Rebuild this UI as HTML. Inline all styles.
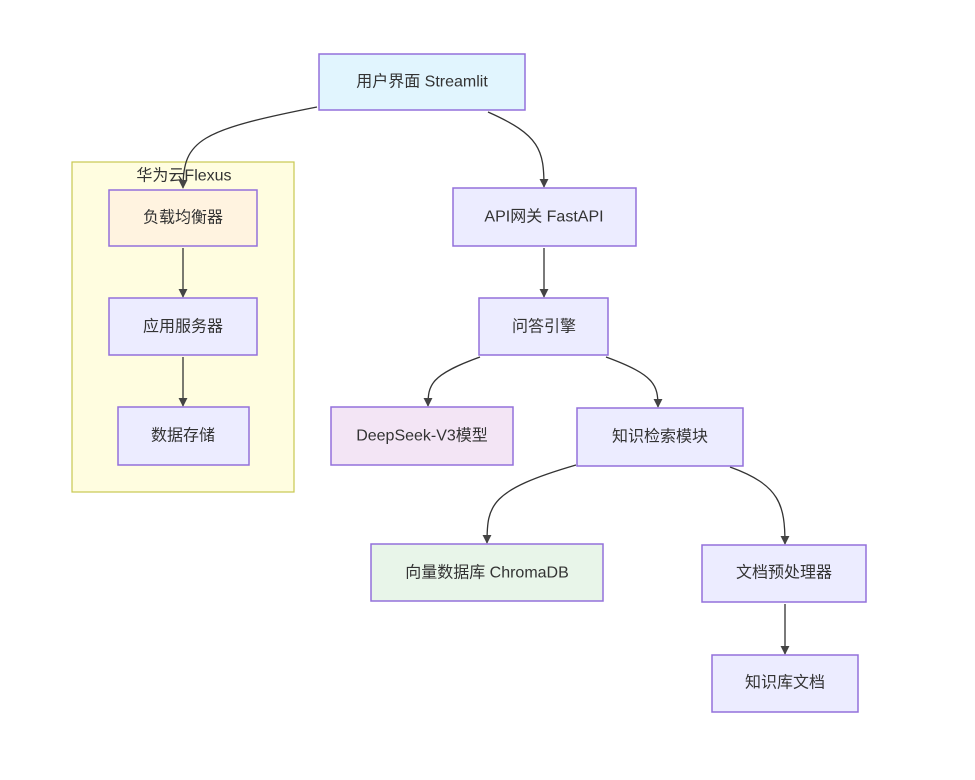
<!DOCTYPE html>
<html><head><meta charset="utf-8"><style>
body{margin:0;background:#fff;}
text{font-family:"Liberation Sans","Noto Sans CJK SC",sans-serif;font-size:16px;fill:#333;text-anchor:middle;dominant-baseline:central;}
.n{stroke:#9370db;stroke-width:1.5;}
.e{fill:none;stroke:#333;stroke-width:1.3;}
</style></head><body>
<svg width="975" height="775" viewBox="0 0 975 775" xmlns="http://www.w3.org/2000/svg">
<defs><marker id="a" viewBox="0 0 10 10" refX="9" refY="5" markerWidth="7" markerHeight="7" orient="auto"><path d="M0,0L10,5L0,10z" fill="#444"/></marker></defs>
<rect x="72" y="162" width="222" height="330" fill="#fffde0" stroke="#c8c850" stroke-width="1.2"/>
<text x="184" y="176">华为云Flexus</text>
<g class="e">
<path d="M317,107 C200,130 183,140 183,188" marker-end="url(#a)"/>
<path d="M488,112 C540,135 544,150 544,187" marker-end="url(#a)"/>
<path d="M183,248 L183,297" marker-end="url(#a)"/>
<path d="M183,357 L183,406" marker-end="url(#a)"/>
<path d="M544,248 L544,297" marker-end="url(#a)"/>
<path d="M480,357 C430,375 428,385 428,406" marker-end="url(#a)"/>
<path d="M606,357 C655,375 658,385 658,407" marker-end="url(#a)"/>
<path d="M576,465 C490,490 487,505 487,543" marker-end="url(#a)"/>
<path d="M730,467 C780,485 785,505 785,544" marker-end="url(#a)"/>
<path d="M785,604 L785,654" marker-end="url(#a)"/>
</g>
<g class="n">
<rect x="319" y="54" width="206" height="56" fill="#e1f5fe"/>
<rect x="109" y="190" width="148" height="56" fill="#fff3e0"/>
<rect x="109" y="298" width="148" height="57" fill="#ececff"/>
<rect x="118" y="407" width="131" height="58" fill="#ececff"/>
<rect x="453" y="188" width="183" height="58" fill="#ececff"/>
<rect x="479" y="298" width="129" height="57" fill="#ececff"/>
<rect x="331" y="407" width="182" height="58" fill="#f3e5f5"/>
<rect x="577" y="408" width="166" height="58" fill="#ececff"/>
<rect x="371" y="544" width="232" height="57" fill="#e8f5e9"/>
<rect x="702" y="545" width="164" height="57" fill="#ececff"/>
<rect x="712" y="655" width="146" height="57" fill="#ececff"/>
</g>
<text x="422" y="82">用户界面 Streamlit</text>
<text x="183" y="218">负载均衡器</text>
<text x="183" y="327">应用服务器</text>
<text x="183" y="436">数据存储</text>
<text x="544" y="217">API网关 FastAPI</text>
<text x="544" y="327">问答引擎</text>
<text x="422" y="436">DeepSeek-V3模型</text>
<text x="660" y="437">知识检索模块</text>
<text x="487" y="573">向量数据库 ChromaDB</text>
<text x="784" y="573">文档预处理器</text>
<text x="785" y="683">知识库文档</text>
</svg>
</body></html>
